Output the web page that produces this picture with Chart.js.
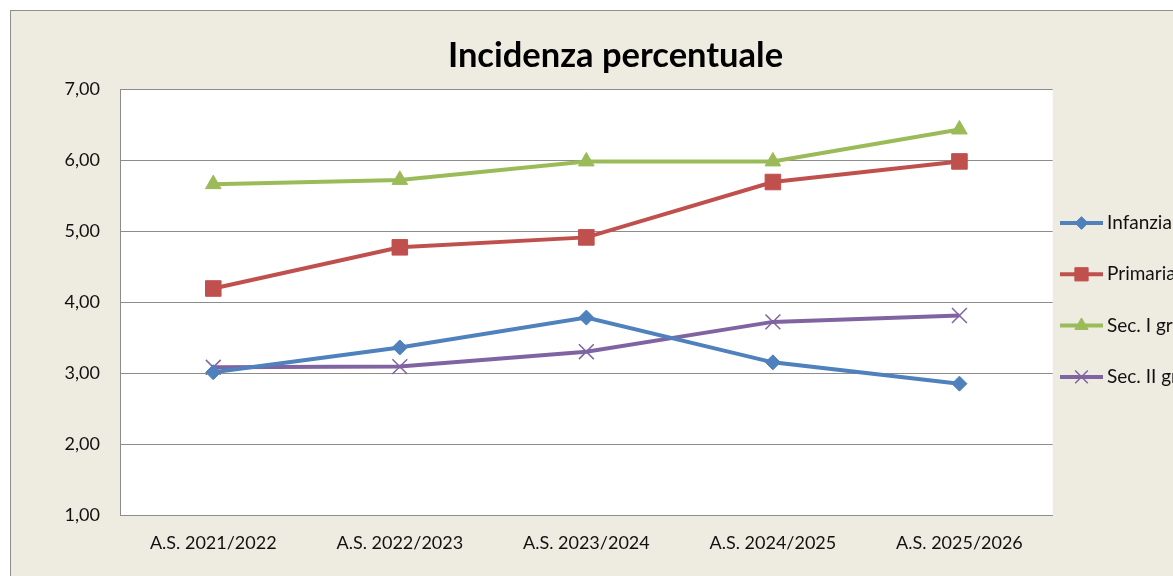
<!DOCTYPE html>
<html>
<head>
<meta charset="utf-8">
<script src="https://cdn.jsdelivr.net/npm/chart.js"></script>
<style>
  html, body { margin: 0; padding: 0; background: #fff; overflow: hidden; }
  #wrap { position: absolute; left: 0; top: 0; width: 1231px; height: 576px; }
</style>
</head>
<body>
<div id="wrap"><canvas id="myChart" width="1231" height="576"></canvas></div>
<script>
const categories = ['A.S. 2021/2022', 'A.S. 2022/2023', 'A.S. 2023/2024', 'A.S. 2024/2025', 'A.S. 2025/2026'];
const infanzia = [3.01, 3.36, 3.78, 3.15, 2.85];
const primaria = [4.19, 4.77, 4.91, 5.69, 5.98];
const secPrimo = [5.66, 5.72, 5.98, 5.98, 6.43];
const secSecondo = [3.08, 3.09, 3.30, 3.72, 3.81];
const yTicks = [1, 2, 3, 4, 5, 6, 7];
const titleText = 'Incidenza percentuale';

const FONT = 'Lato, "Open Sans", sans-serif';

// background, outer frame and white plot area
const frame = {
  id: 'frame',
  beforeDraw(chart) {
    const ctx = chart.ctx;
    const a = chart.chartArea;
    ctx.save();
    ctx.fillStyle = '#EEECE1';
    ctx.fillRect(10, 10, chart.width, chart.height);
    ctx.strokeStyle = '#8e8e8e';
    ctx.lineWidth = 1;
    ctx.strokeRect(10.5, 10.5, chart.width + 20, chart.height + 20);
    ctx.fillStyle = '#ffffff';
    ctx.fillRect(a.left, a.top, a.right - a.left, a.bottom - a.top);
    ctx.restore();
  },
  afterDraw(chart) {
    // title centred over the whole chart box, as in excel
    const ctx = chart.ctx;
    ctx.save();
    ctx.fillStyle = '#000';
    ctx.font = 'bold 34.5px ' + FONT;
    ctx.textAlign = 'center';
    ctx.textBaseline = 'alphabetic';
    ctx.fillText(titleText, 615.5, 66.5);
    ctx.restore();
  }
};

// excel style legend: line with marker through it
const sideLegend = {
  id: 'sideLegend',
  afterDraw(chart) {
    const ctx = chart.ctx;
    const x0 = 1060, x1 = 1103;
    ctx.save();
    chart.data.datasets.forEach((ds, i) => {
      const y = 223 + i * 51.3;
      ctx.strokeStyle = ds.borderColor;
      ctx.lineWidth = ds.borderWidth;
      ctx.beginPath();
      ctx.moveTo(x0, y);
      ctx.lineTo(x1, y);
      ctx.stroke();
      ctx.fillStyle = ds.pointBackgroundColor;
      ctx.strokeStyle = ds.pointBorderColor;
      ctx.lineWidth = ds.pointBorderWidth;
      Chart.helpers.drawPoint(ctx, { pointStyle: ds.pointStyle, radius: ds.pointRadius * 0.85, rotation: 0, borderWidth: ds.pointBorderWidth }, (x0 + x1) / 2, y);
      ctx.fillStyle = '#111';
      ctx.font = '19px ' + FONT;
      ctx.textBaseline = 'middle';
      ctx.textAlign = 'left';
      ctx.fillText(ds.label, 1107, y);
    });
    ctx.restore();
  }
};

const chart = new Chart(document.getElementById('myChart'), {
  type: 'line',
  data: {
    labels: categories,
    datasets: [
      {
        label: 'Infanzia', data: infanzia,
        borderColor: '#4F81BD', backgroundColor: '#4F81BD',
        pointBackgroundColor: '#4F81BD', pointBorderColor: '#4F81BD',
        borderWidth: 4, pointStyle: 'rectRot', pointRadius: 7.5, pointBorderWidth: 1
      },
      {
        label: 'Primaria', data: primaria,
        borderColor: '#C0504D', backgroundColor: '#C0504D',
        pointBackgroundColor: '#C0504D', pointBorderColor: '#C0504D',
        borderWidth: 4, pointStyle: 'rect', pointRadius: 11, pointBorderWidth: 1
      },
      {
        label: 'Sec. I grado', data: secPrimo,
        borderColor: '#9BBB59', backgroundColor: '#9BBB59',
        pointBackgroundColor: '#9BBB59', pointBorderColor: '#9BBB59',
        borderWidth: 4, pointStyle: 'triangle', pointRadius: 9, pointBorderWidth: 1
      },
      {
        label: 'Sec. II grado', data: secSecondo,
        borderColor: '#8064A2', backgroundColor: '#8064A2',
        pointBackgroundColor: '#8064A2', pointBorderColor: '#8064A2',
        borderWidth: 4, pointStyle: 'crossRot', pointRadius: 10.5, pointBorderWidth: 1.5
      }
    ]
  },
  options: {
    responsive: false,
    animation: false,
    events: [],
    layout: { padding: { left: 10, right: 178.3, top: 89, bottom: 0 } },
    scales: {
      x: {
        offset: true,
        grid: { display: false, drawTicks: false },
        border: { display: true, color: '#8c8c8c' },
        ticks: { padding: 17, color: '#111', font: { family: FONT, size: 18 }, maxRotation: 0 },
        afterFit(s) { s.height = 61; }
      },
      y: {
        min: 1,
        max: 7,
        afterBuildTicks(s) { s.ticks = yTicks.map(v => ({ value: v })); },
        grid: { color: '#8c8c8c', drawTicks: false },
        border: { display: true, color: '#8c8c8c' },
        ticks: {
          padding: 20, color: '#111', font: { family: FONT, size: 18 },
          callback: v => v.toFixed(2).replace('.', ',')
        },
        afterFit(s) { s.width = 110; }
      }
    },
    plugins: {
      legend: { display: false },
      tooltip: { enabled: false },
      title: { display: false }
    }
  },
  plugins: [frame, sideLegend]
});
</script>
</body>
</html>
